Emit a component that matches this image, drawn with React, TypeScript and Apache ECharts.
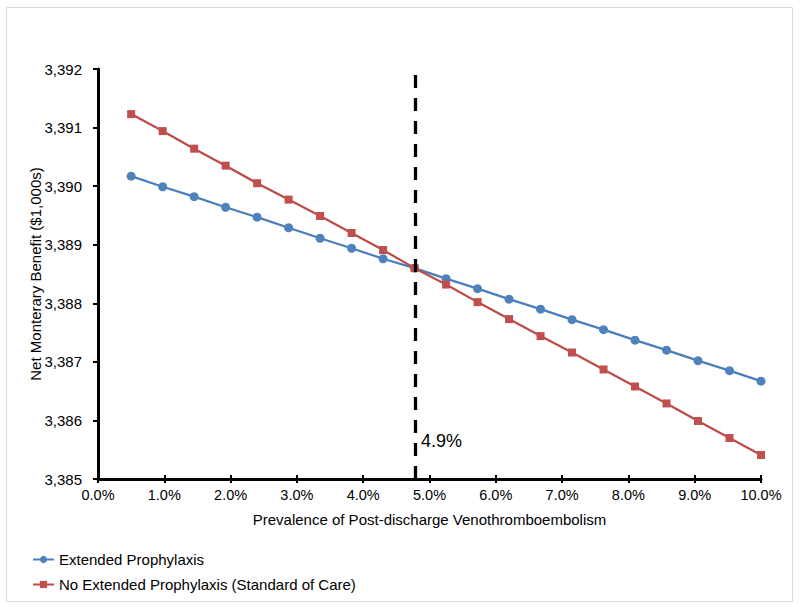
import React, { useEffect, useRef } from "react";
import * as echarts from "echarts";

const prevalence = [0.5, 0.975, 1.45, 1.925, 2.4, 2.875, 3.35, 3.825, 4.3, 4.775, 5.25, 5.725, 6.2, 6.675, 7.15, 7.625, 8.1, 8.575, 9.05, 9.525, 10.0];
const extendedProphylaxis = [3390.17, 3389.99, 3389.82, 3389.64, 3389.47, 3389.29, 3389.11, 3388.94, 3388.76, 3388.6, 3388.42, 3388.25, 3388.07, 3387.9, 3387.72, 3387.55, 3387.37, 3387.2, 3387.02, 3386.85, 3386.67];
const noExtendedProphylaxis = [3391.23, 3390.94, 3390.64, 3390.35, 3390.05, 3389.77, 3389.49, 3389.2, 3388.91, 3388.6, 3388.32, 3388.02, 3387.73, 3387.44, 3387.16, 3386.87, 3386.58, 3386.29, 3385.99, 3385.7, 3385.41];
const seriesNames = ["Extended Prophylaxis", "No Extended Prophylaxis (Standard of Care)"];
const thresholdX = 4.775;
const thresholdLabel = "4.9%";
const xMin = 0, xMax = 10, xStep = 1;
const yMin = 3385, yMax = 3392, yStep = 1;

const FONT = "'Liberation Sans', Arial, sans-serif";

export default function App() {
  const ref = useRef<HTMLDivElement>(null);
  useEffect(() => {
    if (!ref.current) return;
    const chart = echarts.init(ref.current, null, { renderer: "svg" });
    const toPairs = (ys: number[]) => prevalence.map((x, i) => [x, ys[i]]);
    chart.setOption({
      animation: false,
      backgroundColor: "#fff",
      textStyle: { fontFamily: FONT },
      grid: { left: 98, right: 39, top: 69, bottom: 128 },
      legend: {
        orient: "vertical",
        left: 27,
        top: 547,
        itemWidth: 21,
        itemHeight: 9,
        itemGap: 10,
        data: seriesNames,
        textStyle: { fontSize: 15, color: "#000", fontFamily: FONT },
      },
      xAxis: [
        {
          type: "value",
          min: xMin,
          max: xMax,
          interval: xStep,
          name: "Prevalence of Post-discharge Venothromboembolism",
          nameLocation: "middle",
          nameGap: 33,
          nameMoveOverlap: false,
          nameTextStyle: { fontSize: 15, color: "#000", fontFamily: FONT },
          axisLine: { show: true, onZero: false, lineStyle: { color: "#000", width: 3 } },
          axisTick: { show: true, length: 4, lineStyle: { color: "#000", width: 2 } },
          axisLabel: { fontSize: 14.5, color: "#000", margin: 8, formatter: (v: number) => v.toFixed(1) + "%" },
          splitLine: { show: false },
        },
        {
          type: "value",
          min: xMin,
          max: xMax,
          interval: xStep,
          position: "bottom",
          axisLine: { show: false, onZero: false },
          axisTick: { show: true, inside: true, length: 4, lineStyle: { color: "#000", width: 2 } },
          axisLabel: { show: false },
          splitLine: { show: false },
        },
      ],
      yAxis: {
        type: "value",
        min: yMin,
        max: yMax,
        interval: yStep,
        name: "Net Monterary Benefit ($1,000s)",
        nameLocation: "middle",
        nameGap: 55,
        nameMoveOverlap: false,
        nameTextStyle: { fontSize: 15, color: "#000", fontFamily: FONT },
        axisLine: { show: true, onZero: false, lineStyle: { color: "#000", width: 3 } },
        axisTick: { show: true, length: 5, lineStyle: { color: "#000", width: 2 } },
        axisLabel: { fontSize: 15, color: "#000", margin: 16, formatter: (v: number) => v.toLocaleString("en-US") },
        splitLine: { show: false },
      },
      series: [
        {
          name: seriesNames[0],
          type: "line",
          data: toPairs(extendedProphylaxis),
          symbol: "circle",
          symbolSize: 9,
          lineStyle: { color: "#4A7EBB", width: 2.25 },
          itemStyle: { color: "#4F81BD" },
          z: 3,
          markLine: {
            silent: true,
            symbol: ["none", "none"],
            label: { show: false },
            lineStyle: { color: "#000", width: 3.3, type: [13, 10] },
            data: [{ xAxis: thresholdX }],
          },
        },
        {
          name: seriesNames[1],
          type: "line",
          data: toPairs(noExtendedProphylaxis),
          symbol: "rect",
          symbolSize: 8,
          lineStyle: { color: "#BE4B48", width: 2.25 },
          itemStyle: { color: "#C0504D" },
          z: 4,
        },
      ],
      graphic: [
        {
          type: "rect",
          shape: { x: 6.5, y: 7.5, width: 786, height: 594 },
          style: { fill: "none", stroke: "#d9d9d9", lineWidth: 1 },
          silent: true,
          z: -1,
        },
        {
          type: "text",
          left: 421,
          top: 432,
          style: { text: thresholdLabel, fontSize: 18, fill: "#000", fontFamily: FONT },
        },
      ],
    });
    return () => chart.dispose();
  }, []);
  return <div ref={ref} style={{ position: "fixed", left: 0, top: 0, width: 800, height: 607 }} />;
}
